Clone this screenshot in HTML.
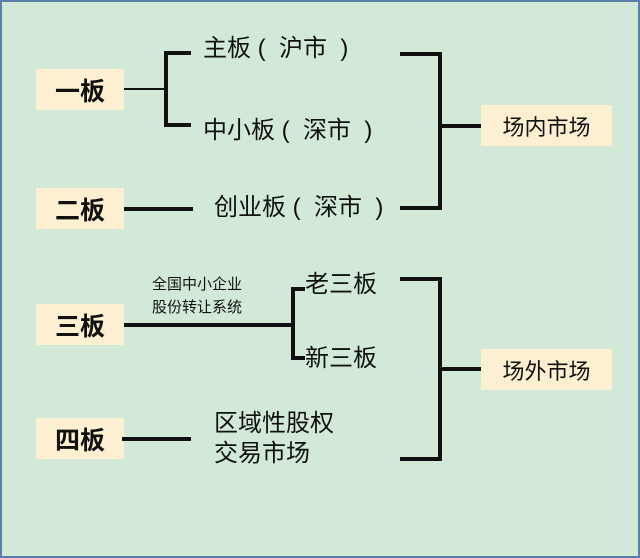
<!DOCTYPE html>
<html><head><meta charset="utf-8"><style>
html,body{margin:0;padding:0}
body{width:640px;height:558px;position:relative;overflow:hidden;background:#d3e9d8;font-family:"Liberation Sans","Noto Sans CJK SC",sans-serif;color:#111}
.frame{position:absolute;left:0;top:0;width:636px;height:554px;border:2px solid #5a7fa8}
.box{position:absolute;background:#fdf0d2;display:flex;align-items:center;justify-content:center}
.t{position:absolute;white-space:pre;line-height:1}
.k{position:absolute;background:#111}
</style></head><body>
<div class="frame"></div>
<div class="box" style="left:36px;top:69px;width:88px;height:41px;font-weight:bold;font-size:25px">一板</div>
<div class="box" style="left:36px;top:188px;width:88px;height:41px;font-weight:bold;font-size:25px">二板</div>
<div class="box" style="left:36px;top:304px;width:88px;height:41px;font-weight:bold;font-size:25px">三板</div>
<div class="box" style="left:36px;top:418px;width:88px;height:41px;font-weight:bold;font-size:25px">四板</div>
<div class="box" style="left:481px;top:105px;width:131px;height:41px;font-size:22px">场内市场</div>
<div class="box" style="left:481px;top:349px;width:131px;height:41px;font-size:22px">场外市场</div>

<div class="t" style="left:203px;top:37px;font-size:24px">主板 (  沪市  )</div>
<div class="t" style="left:203px;top:119px;font-size:24px">中小板 (  深市  )</div>
<div class="t" style="left:214px;top:196px;font-size:24px">创业板 (  深市  )</div>
<div class="t" style="left:305px;top:273px;font-size:24px">老三板</div>
<div class="t" style="left:305px;top:347px;font-size:24px">新三板</div>
<div class="t" style="left:152px;top:277px;font-size:15px">全国中小企业</div>
<div class="t" style="left:152px;top:300px;font-size:15px">股份转让系统</div>
<div class="t" style="left:214px;top:412px;font-size:24px">区域性股权</div>
<div class="t" style="left:214px;top:442px;font-size:24px">交易市场</div>

<div class="k" style="left:124px;top:88px;width:41px;height:1.5px"></div>
<div class="k" style="left:164px;top:51px;width:4px;height:76px"></div>
<div class="k" style="left:164px;top:51px;width:27px;height:4px"></div>
<div class="k" style="left:164px;top:123px;width:27px;height:4px"></div>
<div class="k" style="left:124px;top:207px;width:69px;height:4px"></div>
<div class="k" style="left:124px;top:323px;width:170px;height:4px"></div>
<div class="k" style="left:291px;top:287px;width:4px;height:73px"></div>
<div class="k" style="left:291px;top:287px;width:14px;height:4px"></div>
<div class="k" style="left:291px;top:356px;width:14px;height:4px"></div>
<div class="k" style="left:122px;top:437px;width:69px;height:4px"></div>
<div class="k" style="left:400px;top:52px;width:42px;height:4px"></div>
<div class="k" style="left:438px;top:52px;width:4px;height:158px"></div>
<div class="k" style="left:400px;top:206px;width:42px;height:4px"></div>
<div class="k" style="left:438px;top:124px;width:43px;height:4px"></div>
<div class="k" style="left:400px;top:277px;width:42px;height:4px"></div>
<div class="k" style="left:438px;top:277px;width:4px;height:184px"></div>
<div class="k" style="left:400px;top:457px;width:42px;height:4px"></div>
<div class="k" style="left:438px;top:367px;width:43px;height:4px"></div>
</body></html>
